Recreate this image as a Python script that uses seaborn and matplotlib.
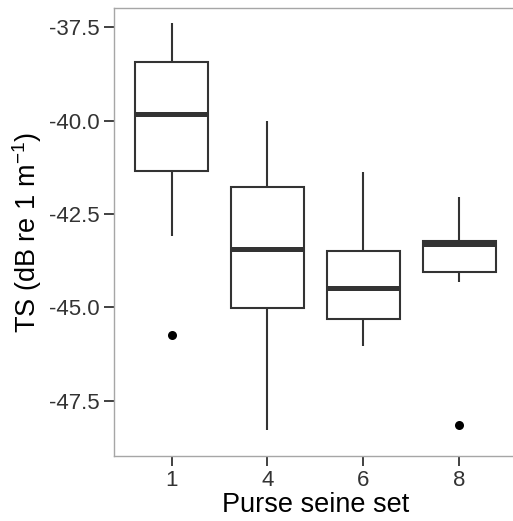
import numpy as np
import pandas as pd
import seaborn as sns
import matplotlib.pyplot as plt

# Five-number summaries of target strength per purse seine set
sets = ["1", "4", "6", "8"]
whisker_low = [-43.09, -48.29, -46.04, -44.31]
q1 = [-41.35, -45.03, -45.30, -44.06]
median = [-39.81, -43.45, -44.47, -43.29]
q3 = [-38.43, -41.77, -43.49, -43.23]
whisker_high = [-37.39, -40.00, -41.38, -42.04]

# Points beyond the whiskers
outlier_sets = ["1", "8"]
outlier_ts = [-45.74, -48.14]

rows = []
for s, a, b, c, d, e in zip(sets, whisker_low, q1, median, q3, whisker_high):
    for v in (a, b, c, d, e):
        rows.append({"set": s, "ts": v})
summary = pd.DataFrame(rows)
outliers = pd.DataFrame({"set": outlier_sets, "ts": outlier_ts})

sns.set_theme(style="white")
plt.rcParams["font.family"] = ["Liberation Sans", "DejaVu Sans"]
plt.rcParams["mathtext.default"] = "regular"

fig = plt.figure(figsize=(5.13, 5.21), dpi=100)
ax = fig.add_axes([0.2222, 0.1248, 0.7848, 0.8593])

line_col = "#333333"
sns.boxplot(
    data=summary, x="set", y="ts", order=sets, ax=ax,
    whis=(0, 100), width=0.76, color="white", linecolor=line_col,
    linewidth=1.5, showcaps=False, fliersize=0,
    medianprops=dict(linewidth=3.6, color=line_col),
)
sns.stripplot(
    data=outliers, x="set", y="ts", order=sets, ax=ax,
    jitter=False, color="black", size=6.5, linewidth=0,
)

ax.set_xlim(-0.6, 3.6)
ax.set_ylim(-48.98, -36.99)
ax.set_yticks([-47.5, -45.0, -42.5, -40.0, -37.5])
ax.set_yticklabels(["-47.5", "-45.0", "-42.5", "-40.0", "-37.5"])

for sp in ax.spines.values():
    sp.set_color("#a6a6a6")
    sp.set_linewidth(1.0)
    sp.set_visible(True)

ax.tick_params(axis="both", which="major", length=7, width=1.3, color=line_col,
               labelsize=16, labelcolor="#333333", pad=3, left=True, bottom=True)

ax.set_xlabel("Purse seine set", fontsize=19.5, color="black", labelpad=1)
ax.set_ylabel("TS (dB re 1 m$^{-1}$)", fontsize=19.5, color="black", labelpad=4)

fig.savefig("out.png", dpi=100)
